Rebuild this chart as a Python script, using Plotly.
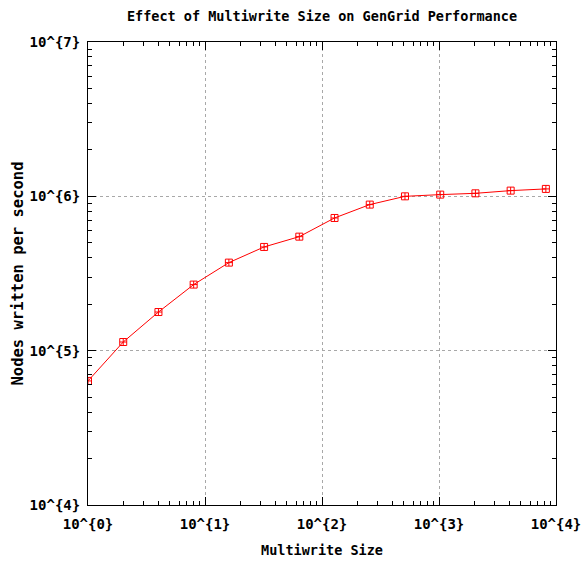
import plotly.graph_objects as go

multiwrite_size = [1, 2, 4, 8, 16, 32, 64, 128, 256, 512, 1024, 2048, 4096, 8192]
nodes_per_sec = [63650, 113800, 178000, 268000, 372000, 470000, 548000,
                 724000, 884000, 1000000, 1026000, 1046000, 1089000, 1117000]

x_ticks = [1, 10, 100, 1000, 10000]
x_labels = ["10^{0}", "10^{1}", "10^{2}", "10^{3}", "10^{4}"]
y_ticks = [1e4, 1e5, 1e6, 1e7]
y_labels = ["10^{4}", "10^{5}", "10^{6}", "10^{7}"]

def minors(lo, hi):
    out = []
    d = lo
    while d < hi:
        out += [d * k for k in range(2, 10)]
        d *= 10
    return out

FAM = "DejaVu Sans Mono"
tick_font = dict(family=FAM, size=14, color="black", weight="bold")
title_font = dict(family=FAM, size=13.5, color="black", weight="bold")
ytitle_font = dict(family=FAM, size=15.5, color="black", weight="bold")

fig = go.Figure(go.Scatter(
    x=multiwrite_size, y=nodes_per_sec, mode="lines+markers",
    line=dict(color="#ff0000", width=1),
    marker=dict(symbol="square-cross-open", size=7, color="#ff0000", line=dict(width=1)),
    showlegend=False,
))

axis_common = dict(
    type="log", showline=True, linecolor="black", linewidth=1, mirror="ticks",
    ticks="inside", ticklen=8, tickcolor="black", tickwidth=1,
    showgrid=True, gridcolor="#a8a8a8", griddash="dot", gridwidth=1,
    zeroline=False, tickfont=tick_font, tickmode="array", automargin=False,
)

fig.update_xaxes(**axis_common, range=[0, 4], tickvals=x_ticks, ticktext=x_labels,
                 ticklabelstandoff=6,
                 minor=dict(tickmode="array", tickvals=minors(1, 10000), ticks="inside",
                            ticklen=4, tickcolor="black", showgrid=False),
                 title=dict(text="Multiwrite Size", font=title_font, standoff=14))
fig.update_yaxes(**axis_common, range=[4, 7], tickvals=y_ticks, ticktext=y_labels,
                 ticklabelstandoff=4,
                 minor=dict(tickmode="array", tickvals=minors(1e4, 1e7), ticks="inside",
                            ticklen=4, tickcolor="black", showgrid=False),
                 title=dict(text="Nodes written per second", font=ytitle_font, standoff=2))

fig.update_layout(
    width=582, height=561,
    margin=dict(l=88, r=26, t=42, b=56),
    paper_bgcolor="white", plot_bgcolor="white",
    title=dict(text="Effect of Multiwrite Size on GenGrid Performance", font=title_font,
               xref="paper", x=0.5, xanchor="center", y=1 - 16 / 561, yanchor="middle"),
)

fig.write_html("out.html")
